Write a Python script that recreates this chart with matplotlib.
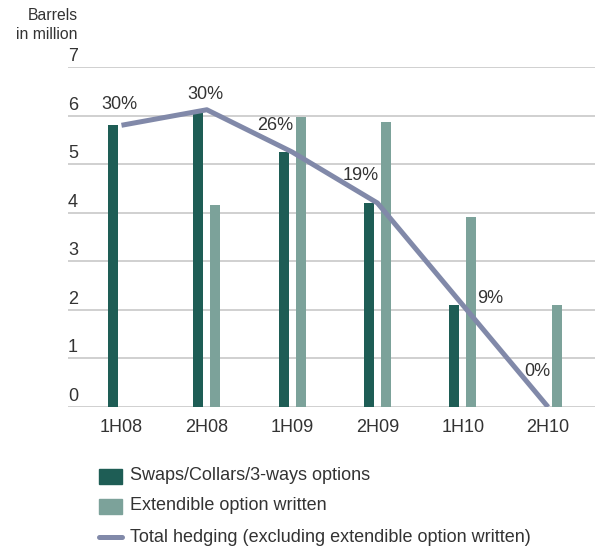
import matplotlib
matplotlib.use("Agg")
import matplotlib.pyplot as plt
from matplotlib.patches import Rectangle
from matplotlib.lines import Line2D
import matplotlib.transforms as mtransforms
import numpy as np

categories = ["1H08", "2H08", "1H09", "2H09", "1H10", "2H10"]
swaps = [5.8, 6.05, 5.25, 4.2, 2.1, 0.0]
extendible = [0.0, 4.15, 5.97, 5.87, 3.91, 2.1]
total_hedging = [5.8, 6.12, 5.25, 4.2, 2.1, 0.0]
pct_labels = ["30%", "30%", "26%", "19%", "9%", "0%"]
y_ticks = [0, 1, 2, 3, 4, 5, 6, 7]

DARK = "#1E5D55"
LIGHT = "#7CA29A"
LINE = "#8189A9"
TEXT = "#333333"
GRID = "#C4C4C4"
FS = 13

plt.rcParams['font.family'] = ['Liberation Sans', 'DejaVu Sans']

W, H = 595, 547
fig = plt.figure(figsize=(W / 100, H / 100), dpi=100)
ax_left, ax_right = 68 / W, 595 / W
ax_bottom, ax_top = 1 - 407 / H, 1 - 67 / H
ax = fig.add_axes([ax_left, ax_bottom, ax_right - ax_left, ax_top - ax_bottom])

x = np.arange(len(categories))
bw = 0.117
off = 0.0995
sw = np.array(swaps)
ex = np.array(extendible)
mask_s = sw > 0
mask_e = ex > 0
ax.bar(x[mask_s] - off, sw[mask_s], width=bw, color=DARK, zorder=3)
ax.bar(x[mask_e] + off, ex[mask_e], width=bw, color=LIGHT, zorder=3)
ax.plot(x, total_hedging, color=LINE, lw=3.6, zorder=4, solid_capstyle='butt')

ax.set_xlim(-0.627, 5.55)
ax.set_ylim(0, 7)
for s in ax.spines.values():
    s.set_visible(False)
ax.set_yticks([])
for yv in y_ticks:
    ax.axhline(yv, color=GRID, lw=1.1, zorder=1)

trans = mtransforms.blended_transform_factory(ax.transAxes, ax.transData)
trans_off = trans + mtransforms.ScaledTranslation(0, 2 / 100, fig.dpi_scale_trans)
for yv in y_ticks:
    ax.text(0, yv, str(yv), transform=trans_off, ha='left', va='bottom',
            fontsize=FS, color=TEXT)

ax.set_xticks(x)
ax.set_xticklabels(categories, fontsize=FS, color=TEXT)
ax.tick_params(axis='x', length=0, pad=9)

offsets = [(-2.5, 21), (-1.5, 15.5), (-16.5, 27), (-17, 28), (27.5, 6.5), (-11, 36)]
for xi, yi, lab, (dx, dy) in zip(x, total_hedging, pct_labels, offsets):
    ax.annotate(lab, (xi, yi), xytext=(dx, dy), textcoords='offset pixels',
                ha='center', va='center', fontsize=FS, color=TEXT, zorder=5)

fig.text(78 / W, 1 - 8 / H, "Barrels\nin million", ha='right', va='top',
         fontsize=11.3, color=TEXT, linespacing=1.3)

# legend
rows = [476, 506, 537]
fig.patches.append(Rectangle((99 / W, 1 - (rows[0] + 7.5) / H), 23 / W, 15 / H,
                             transform=fig.transFigure, color=DARK))
fig.patches.append(Rectangle((99 / W, 1 - (rows[1] + 7.5) / H), 23 / W, 15 / H,
                             transform=fig.transFigure, color=LIGHT))
fig.lines.append(Line2D([99 / W, 122 / W], [1 - rows[2] / H] * 2,
                        transform=fig.transFigure, color=LINE, lw=3.6,
                        solid_capstyle='round'))
legend_labels = ["Swaps/Collars/3-ways options", "Extendible option written",
                 "Total hedging (excluding extendible option written)"]
for r, lab in zip(rows, legend_labels):
    fig.text(130 / W, 1 - r / H, lab, ha='left', va='center', fontsize=FS, color=TEXT)

fig.savefig("out.png", dpi=100)
